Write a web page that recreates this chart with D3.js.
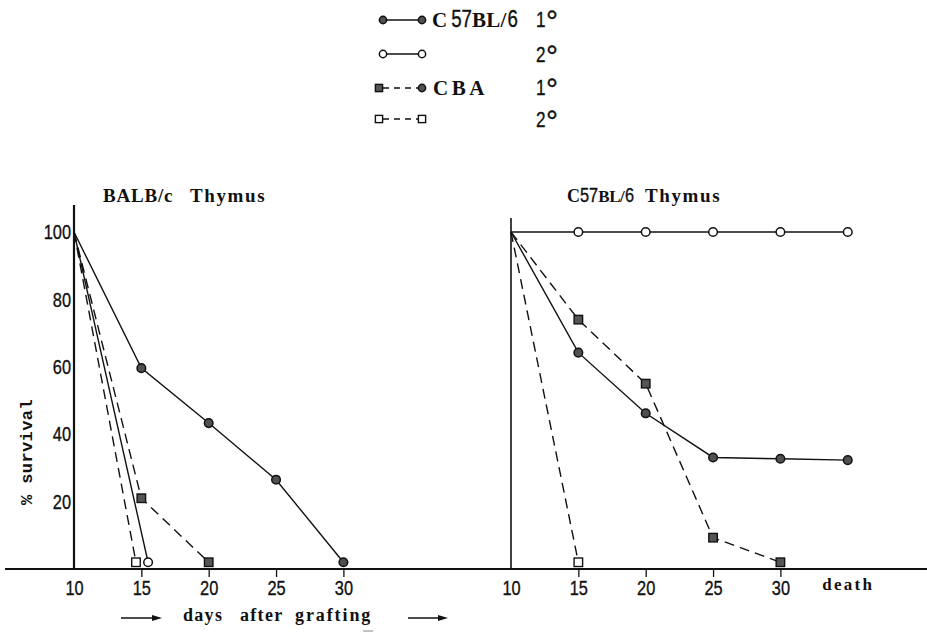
<!DOCTYPE html>
<html>
<head>
<meta charset="utf-8">
<script src="https://cdn.jsdelivr.net/npm/d3@7"></script>
<style>
  html, body { margin: 0; padding: 0; background: #fff; }
  svg { display: block; }
  .num { font-family: "Liberation Sans", "DejaVu Sans", sans-serif; fill: #111; stroke: #111; stroke-width: 0.35; }
  .ser { font-family: "Liberation Serif", "DejaVu Serif", serif; font-weight: bold; fill: #111; }
</style>
</head>
<body>
<svg id="chart" width="927" height="633"></svg>
<script>
// Survival of thymus grafts (% surviving vs days after grafting)
const xTicks = [10, 15, 20, 25, 30];
const xTickLabelsRight = ["10", "15", "20", "25", "30", "death"];
const xTickValuesRight = [10, 15, 20, 25, 30, 35]; // "death" column plotted at 35
const yTicks = [20, 40, 60, 80, 100];

// BALB/c thymus panel
const balbC57First = { days: [10, 15, 20, 25, 30], surv: [100, 59.6, 43.3, 26.5, 2] };
const balbC57Second = { days: [10, 15.5], surv: [100, 2] };
const balbCbaFirst = { days: [10, 15, 20], surv: [100, 21, 2] };
const balbCbaSecond = { days: [10, 14.6], surv: [100, 2] };

// C57BL/6 thymus panel
const c57C57First = { days: [10, 15, 20, 25, 30, 35], surv: [100, 64.2, 46.2, 33.1, 32.7, 32.3] };
const c57C57Second = { days: [10, 15, 20, 25, 30, 35], surv: [100, 100, 100, 100, 100, 100] };
const c57CbaFirst = { days: [10, 15, 20, 25, 30], surv: [100, 74, 55, 9.3, 2] };
const c57CbaSecond = { days: [10, 15], surv: [100, 2] };

const legendRows = [
  { label: "C57BL/6", grade: "1", marker: "fcircle", markerRight: "fcircle", dashed: false },
  { label: "", grade: "2", marker: "ocircle", markerRight: "ocircle", dashed: false },
  { label: "CBA", grade: "1", marker: "fsquare", markerRight: "fcircle", dashed: true },
  { label: "", grade: "2", marker: "osquare", markerRight: "osquare", dashed: true }
];

const svg = d3.select("#chart");
const pxPerDay = 13.47;
const y = d3.scaleLinear().domain([0, 100]).range([569, 232]);
const xLeft = d3.scaleLinear().domain([10, 30]).range([74, 74 + 20 * pxPerDay]);
const xRight = d3.scaleLinear().domain([10, 35]).range([511, 511 + 25 * pxPerDay]);

const DASH = "10,6";
const COND = 0.78; // horizontal squeeze for the narrow numerals

function drawMarker(g, type, cx, cy, size) {
  const k = size || 1;
  if (type === "fcircle" || type === "ocircle") {
    g.append("circle").attr("cx", cx).attr("cy", cy).attr("r", 4.3 * k)
      .attr("fill", type === "fcircle" ? "#505050" : "#fff")
      .attr("stroke", "#111").attr("stroke-width", 1.5);
  } else {
    const s = 8.5 * k;
    g.append("rect").attr("x", cx - s / 2).attr("y", cy - s / 2).attr("width", s).attr("height", s)
      .attr("fill", type === "fsquare" ? "#555" : "#fff")
      .attr("stroke", "#111").attr("stroke-width", 1.4);
  }
}

function drawSeries(x, series, marker, dashed) {
  const pts = series.days.map((d, i) => [x(d), y(series.surv[i])]);
  svg.append("path").attr("d", d3.line()(pts))
    .attr("fill", "none").attr("stroke", "#111").attr("stroke-width", 1.4)
    .attr("stroke-dasharray", dashed ? DASH : null);
  const g = svg.append("g");
  pts.forEach((p, i) => { if (i > 0) drawMarker(g, marker, p[0], p[1]); });
}

// Writes a run of text pieces left to right; numeral pieces are squeezed horizontally.
function textRun(x0, baseline, pieces) {
  let x = x0;
  pieces.forEach(p => {
    x += p.dx || 0;
    const sx = p.cond ? COND : 1;
    const t = svg.append("text")
      .attr("class", p.cond ? "num" : "ser")
      .attr("font-size", p.size)
      .attr("letter-spacing", p.ls || 0)
      .attr("transform", `translate(${x},${baseline}) scale(${sx},1)`)
      .text(p.t);
    x += t.node().getBBox().width * sx;
  });
}

// Baseline spanning both panels
svg.append("line").attr("x1", 5).attr("x2", 927).attr("y1", 569).attr("y2", 569)
  .attr("stroke", "#111").attr("stroke-width", 2.2);

// Vertical axes
svg.append("line").attr("x1", xLeft(10)).attr("x2", xLeft(10)).attr("y1", 205).attr("y2", 569)
  .attr("stroke", "#111").attr("stroke-width", 2.2);
svg.append("line").attr("x1", xRight(10)).attr("x2", xRight(10)).attr("y1", 218).attr("y2", 569)
  .attr("stroke", "#111").attr("stroke-width", 1.6);

// Y tick labels (left panel only)
const yAxis = d3.axisLeft(y).tickValues(yTicks).tickSize(0).tickPadding(0).tickFormat(d3.format("d"));
const yG = svg.append("g").attr("transform", `translate(${xLeft(10) - 3},0)`).call(yAxis);
yG.select(".domain").remove();
yG.selectAll("text").attr("class", "num").attr("font-size", 21).attr("font-family", null)
  .attr("x", 0).attr("transform", `scale(${COND},1)`);

// X axes
function xAxisAt(x, values, labels) {
  const ax = d3.axisBottom(x).tickValues(values).tickSize(8).tickPadding(3)
    .tickFormat((d, i) => labels[i]);
  const g = svg.append("g").attr("transform", "translate(0,569)").call(ax);
  g.select(".domain").remove();
  g.selectAll(".tick line").attr("stroke", "#111").attr("stroke-width", 1.3)
    .filter(d => d === 10 || d === 35).remove();
  g.selectAll("text").attr("class", "num").attr("font-size", 21).attr("font-family", null)
    .attr("transform", `scale(${COND},1)`);
  return g;
}
xAxisAt(xLeft, xTicks, xTicks.map(String));
const gr = xAxisAt(xRight, xTickValuesRight, xTickLabelsRight);
gr.selectAll("text").filter(d => d === 35)
  .attr("class", "ser").attr("font-size", 17).attr("letter-spacing", 2.3)
  .attr("transform", null).attr("dy", "0.6em");

// Data
drawSeries(xLeft, balbC57Second, "ocircle", false);
drawSeries(xLeft, balbCbaSecond, "osquare", true);
drawSeries(xLeft, balbCbaFirst, "fsquare", true);
drawSeries(xLeft, balbC57First, "fcircle", false);

drawSeries(xRight, c57C57Second, "ocircle", false);
drawSeries(xRight, c57CbaSecond, "osquare", true);
drawSeries(xRight, c57CbaFirst, "fsquare", true);
drawSeries(xRight, c57C57First, "fcircle", false);

// Panel titles
textRun(103, 202, [{ t: "BALB/c", size: 19, ls: 0.8 }]);
textRun(190, 202, [{ t: "Thymus", size: 19, ls: 1.6 }]);
textRun(567, 202, [
  { t: "C", size: 18 },
  { t: "57", size: 21, cond: true },
  { t: "BL/", size: 17, ls: -0.4 },
  { t: "6", size: 21, cond: true }
]);
textRun(645, 202, [{ t: "Thymus", size: 19, ls: 1.6 }]);

// Y axis title
svg.append("text").attr("transform", "translate(32,452) rotate(-90)")
  .attr("text-anchor", "middle").attr("font-family", "Liberation Mono, DejaVu Sans Mono, monospace")
  .attr("font-weight", "bold").attr("font-size", 17).attr("letter-spacing", 0.4).attr("fill", "#111")
  .text("% survival");

// X axis title with arrows
function arrow(x1, x2, yy) {
  svg.append("line").attr("x1", x1).attr("x2", x2 - 6).attr("y1", yy).attr("y2", yy)
    .attr("stroke", "#111").attr("stroke-width", 1.3);
  svg.append("path").attr("d", `M${x2 - 10},${yy - 3}L${x2},${yy}L${x2 - 10},${yy + 3}Z`).attr("fill", "#111");
}
arrow(121, 162, 618);
arrow(408, 448, 618);
textRun(183, 621, [{ t: "days", size: 18, ls: 1.3 }]);
textRun(240, 621, [{ t: "after", size: 18, ls: 1.3 }]);
textRun(295, 621, [{ t: "grafting", size: 18, ls: 1.9 }]);
svg.append("line").attr("x1", 363).attr("x2", 373).attr("y1", 631).attr("y2", 631)
  .attr("stroke", "#999").attr("stroke-width", 1.2);

// Legend
const legX1 = 383, legX2 = 422;
const legY = [20, 54, 88, 119];
const gradeBase = [27, 62, 95, 127];
legendRows.forEach((r, i) => {
  const yy = legY[i];
  svg.append("line").attr("x1", legX1).attr("x2", legX2).attr("y1", yy).attr("y2", yy)
    .attr("stroke", "#111").attr("stroke-width", 1.4)
    .attr("stroke-dasharray", r.dashed ? "6,5" : null);
  const g = svg.append("g");
  drawMarker(g, r.marker, r.marker.endsWith("square") ? legX1 - 4 : legX1, yy, 0.85);
  drawMarker(g, r.markerRight, legX2, yy, 0.85);
  if (r.label === "CBA") {
    textRun(433, yy + 7, [{ t: "CBA", size: 21, ls: 3.5 }]);
  } else if (r.label) {
    textRun(432, yy + 7, [
      { t: "C", size: 21 },
      { t: "57", size: 24, cond: true, dx: 4 },
      { t: "BL/", size: 21, ls: 0.3 },
      { t: "6", size: 24, cond: true }
    ]);
  }
  // grade: narrow numeral followed by a large degree ring
  svg.append("text").attr("class", "num").attr("font-size", 22)
    .attr("transform", `translate(536,${gradeBase[i]}) scale(${COND},1)`).text(r.grade);
  svg.append("text").attr("class", "num").attr("font-size", 30)
    .attr("x", 546).attr("y", gradeBase[i] + 4).text("°");
});
</script>
</body>
</html>
